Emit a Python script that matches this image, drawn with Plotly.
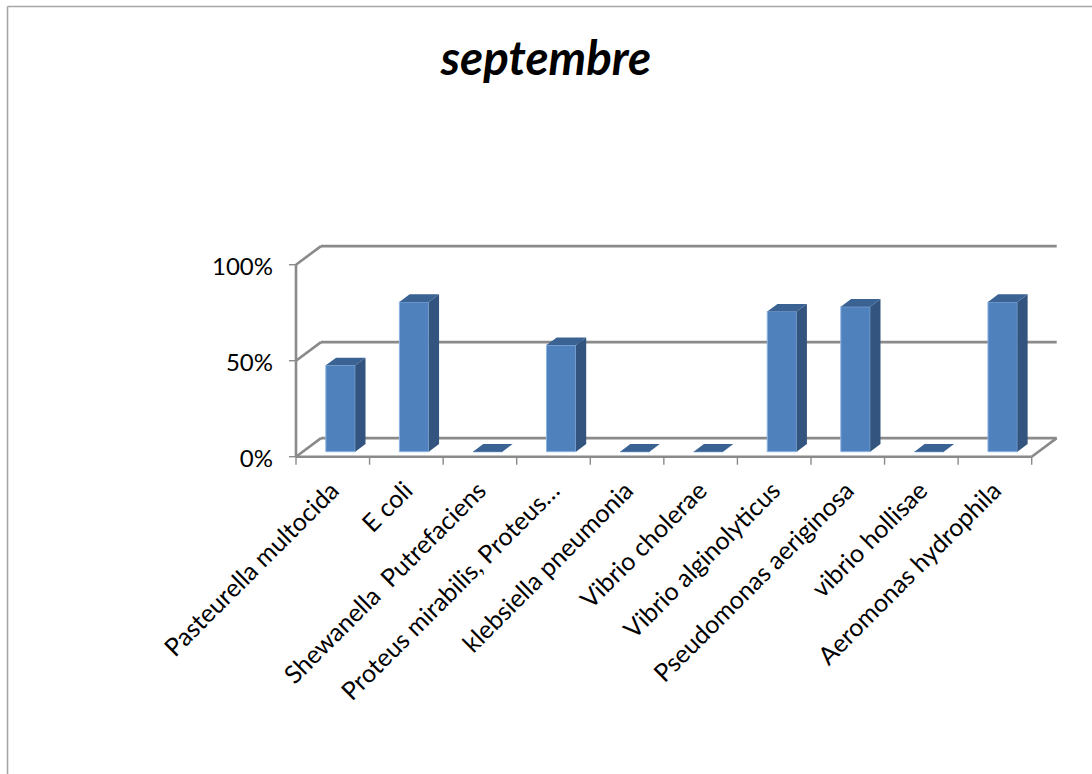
import plotly.graph_objects as go

title = "septembre"
categories = ["Pasteurella multocida", "E coli", "Shewanella\u00a0\u00a0Putrefaciens",
              "Proteus mirabilis, Proteus…", "klebsiella pneumonia", "Vibrio cholerae",
              "Vibrio alginolyticus", "Pseudomonas aeriginosa", "vibrio hollisae",
              "Aeromonas hydrophila"]
values = [0.45, 0.78, 0.0, 0.555, 0.0, 0.0, 0.73, 0.755, 0.0, 0.78]
y_ticks = [0, 0.5, 1]

W, H = 1092, 774
L, R, T, B = 283.0, 1062.0, 240.0, 470.0       # plot rectangle in pixels
X0_PX, Y0_PX = 296.0, 456.7                    # where the front axes meet
CAT_PX = 73.57
Y_PX = 192.0
DX = 25.0 / CAT_PX                             # floor depth in axis units
DY = 18.6 / Y_PX
BAR_W = 0.4
D0, D1 = 0.27, 0.68                            # bar front / back along the depth
BAR_NUDGE = 1.0 / CAT_PX

GRID = "#8a8a8a"
FACE, SIDE, TOP = "#4f81bd", "#32547e", "#3a6292"

xmin = -0.5
x_lo = xmin - (X0_PX - L) / CAT_PX
x_hi = xmin + (R - X0_PX) / CAT_PX
y_lo = -(B - Y0_PX) / Y_PX
y_hi = (Y0_PX - T) / Y_PX
idx = list(range(len(categories)))

fig = go.Figure()

# front faces
fig.add_trace(go.Bar(
    x=[i + D0 * DX + BAR_NUDGE for i in idx], y=values, base=D0 * DY, width=BAR_W,
    marker=dict(color=FACE, line=dict(color="#8db3e2", width=1)),
    hoverinfo="skip", showlegend=False))

# side and top faces
sx, sy, tx, ty = [], [], [], []
for i, v in zip(idx, values):
    x0 = i - BAR_W / 2 + D0 * DX + BAR_NUDGE
    x1 = i + BAR_W / 2 + D0 * DX + BAR_NUDGE
    y0 = D0 * DY
    ox, oy = (D1 - D0) * DX, (D1 - D0) * DY
    tx += [x0, x1, x1 + ox, x0 + ox, x0, None]
    ty += [y0 + v, y0 + v, y0 + v + oy, y0 + v + oy, y0 + v, None]
    if v > 0:
        sx += [x1, x1 + ox, x1 + ox, x1, x1, None]
        sy += [y0, y0 + oy, y0 + v + oy, y0 + v, y0, None]
fig.add_trace(go.Scatter(x=sx, y=sy, mode="lines", fill="toself", fillcolor=SIDE,
                         line=dict(width=0), hoverinfo="skip", showlegend=False))
fig.add_trace(go.Scatter(x=tx, y=ty, mode="lines", fill="toself", fillcolor=TOP,
                         line=dict(width=0), hoverinfo="skip", showlegend=False))

x_end = xmin + len(categories)

# walls, floor and ticks, all behind the bars
shapes = []
def seg(x0, y0, x1, y1, width=2.6):
    shapes.append(dict(type="line", xref="x", yref="y", x0=x0, y0=y0, x1=x1, y1=y1,
                       layer="below", line=dict(color=GRID, width=width)))

for t in y_ticks:
    seg(xmin, t, xmin + DX, t + DY)
    seg(xmin + DX, t + DY, x_end + DX, t + DY)
    seg(xmin - 7 / CAT_PX, t, xmin, t, width=1.4)
seg(xmin, 0, xmin, 1)
seg(xmin, 0, x_end, 0)
seg(x_end, 0, x_end + DX, DY)
for k in range(len(categories) + 1):
    seg(xmin + k, 0, xmin + k, -8 / Y_PX, width=1.4)

# outer frame (top and left edges of the picture)
def px(x):
    return (x - L) / (R - L)
def py(y):
    return (B - y) / (B - T)
for a in [dict(x0=px(7.5), x1=px(W), y0=py(6.5), y1=py(6.5)),
          dict(x0=px(7.5), x1=px(7.5), y0=py(6.5), y1=py(H))]:
    shapes.append(dict(type="line", xref="paper", yref="paper",
                       line=dict(color="#a6a6a6", width=1.6), **a))

FONT = "Lato, Carlito, Calibri, sans-serif"
fig.update_layout(
    width=W, height=H,
    margin=dict(l=L, r=W - R, t=T, b=H - B, pad=0),
    paper_bgcolor="white", plot_bgcolor="white",
    showlegend=False, shapes=shapes,
    title=dict(text="<b><i>%s</i></b>" % title, x=546 / W, xanchor="center",
               y=1 - 58 / H, yanchor="middle",
               font=dict(family=FONT, size=47.5, color="black")),
    font=dict(family=FONT, color="black"),
    xaxis=dict(range=[x_lo, x_hi], tickmode="array", tickvals=idx, ticktext=categories,
               tickangle=-45, showgrid=False, zeroline=False, showline=False,
               ticks="", ticklabelstandoff=0, ticklabelshift=-1,
               tickfont=dict(size=25, color="black"), automargin=False),
    yaxis=dict(range=[y_lo, y_hi], tickmode="array", tickvals=y_ticks, tickformat=".0%",
               showgrid=False, zeroline=False, showline=False,
               ticks="", ticklabelstandoff=9, ticklabelshift=2,
               tickfont=dict(size=24, color="black"), automargin=False),
)

fig.write_html("out.html", config={"displayModeBar": False},
               post_script="document.body.style.margin='0';document.documentElement.style.overflow='hidden';")
